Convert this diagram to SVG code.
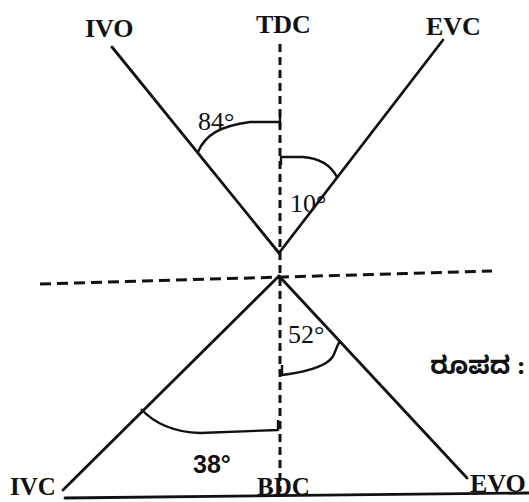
<svg xmlns="http://www.w3.org/2000/svg" width="529" height="502" viewBox="0 0 529 502">
<style>
.bg{fill:#ffffff}
.ln{stroke:#111;stroke-width:2.8;fill:none;stroke-linecap:round}
.arc{stroke:#111;stroke-width:2.4;fill:none;stroke-linejoin:round}
.dv{stroke:#111;stroke-width:3;fill:none;stroke-dasharray:8 5}
.dh{stroke:#111;stroke-width:3;fill:none;stroke-dasharray:11 6}
.lbl{font-family:"Liberation Serif","Times New Roman",serif;font-weight:bold;font-size:26px;fill:#111}
.lbb{font-family:"Liberation Serif","Times New Roman",serif;font-weight:bold;font-size:25px;fill:#111}
.ang{font-family:"Liberation Serif","Times New Roman",serif;font-size:26px;fill:#111}
.angs{font-family:"Liberation Sans",Arial,sans-serif;font-weight:bold;font-size:25px;fill:#111}
.ind{font-family:"Noto Sans Kannada","Noto Sans",sans-serif;font-weight:bold;font-size:25px;fill:#111;text-anchor:end}
</style>
<rect class="bg" x="0" y="0" width="529" height="502"/>
<g id="connectors">
<line class="dv" x1="280" y1="44" x2="280" y2="492"/>
<line class="dh" x1="40" y1="284" x2="492" y2="271"/>
<line class="ln" x1="112" y1="47" x2="279" y2="253"/>
<line class="ln" x1="443" y1="40" x2="279" y2="253"/>
<line class="ln" x1="279" y1="276" x2="63" y2="490"/>
<line class="ln" x1="279" y1="276" x2="467" y2="478"/>
<line class="ln" x1="65" y1="498" x2="529" y2="493"/>
<path class="arc" d="M198,152 C205,135 220,126 250,122 L280,122 M280,117 L280,127"/>
<path class="arc" d="M281,165 L281,157 L303,157 C318,158 330,164 337,177"/>
<path class="arc" d="M340,341 C334,350 336,357 326,363 C314,370 298,373 282,375 M282,365 L282,376"/>
<path class="arc" d="M141,409 C153,422 172,432 200,433 L278,430 M278,420 L278,431"/>
</g>
<g id="IVO"><text class="lbl" x="85" y="37">IVO</text></g>
<g id="TDC"><text class="lbl" x="256" y="33">TDC</text></g>
<g id="EVC"><text class="lbl" x="426" y="35">EVC</text></g>
<g id="IVC"><text class="lbb" x="10" y="495">IVC</text></g>
<g id="BDC"><text class="lbb" x="257" y="495">BDC</text></g>
<g id="EVO"><text class="lbl" x="470" y="492">EVO</text></g>
<g id="a84"><text class="ang" x="198" y="130">84°</text></g>
<g id="a10"><text class="ang" x="290" y="212">10°</text></g>
<g id="a52"><text class="ang" x="288" y="343">52°</text></g>
<g id="a38"><text class="angs" x="193" y="473">38°</text></g>
<g id="caption"><text class="ind" x="525" y="374">ರೂಪದ :</text></g>
</svg>
